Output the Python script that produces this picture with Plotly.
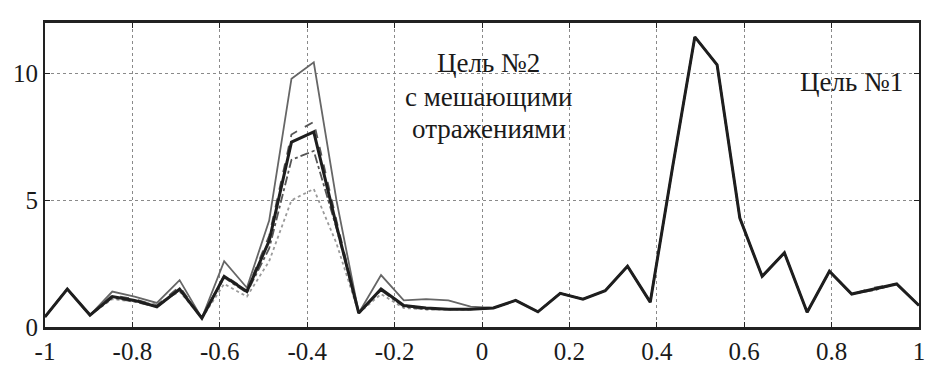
import plotly.graph_objects as go

# angle grid (sin of angle), 40 samples from -1 to 1
x_vals = [-1.000, -0.949, -0.897, -0.846, -0.795, -0.744, -0.692, -0.641, -0.590, -0.538,
          -0.487, -0.436, -0.385, -0.333, -0.282, -0.231, -0.179, -0.128, -0.077, -0.026,
          0.026, 0.077, 0.128, 0.179, 0.231, 0.282, 0.333, 0.385, 0.436, 0.487,
          0.538, 0.590, 0.641, 0.692, 0.744, 0.795, 0.846, 0.897, 0.949, 1.000]

s_thin = [0.40, 1.50, 0.47, 1.40, 1.20, 0.95, 1.85, 0.35, 2.60, 1.55,
          4.20, 9.80, 10.45, 5.00, 0.55, 2.05, 1.05, 1.10, 1.05, 0.80,
          0.75, 1.05, 0.60, 1.33, 1.10, 1.43, 2.40, 0.98, 6.30, 11.45,
          10.35, 4.30, 2.00, 2.93, 0.58, 2.20, 1.30, 1.50, 1.70, 0.85]

s_dash = [0.40, 1.50, 0.47, 1.25, 1.10, 0.85, 1.60, 0.35, 2.05, 1.45,
          3.60, 7.60, 8.10, 4.20, 0.55, 1.50, 0.85, 0.75, 0.70, 0.70,
          0.75, 1.05, 0.60, 1.33, 1.10, 1.43, 2.40, 0.98, 6.30, 11.45,
          10.35, 4.30, 2.00, 2.93, 0.58, 2.20, 1.30, 1.55, 1.70, 0.85]

s_thick = [0.40, 1.50, 0.47, 1.20, 1.05, 0.80, 1.50, 0.35, 2.00, 1.40,
           3.40, 7.30, 7.70, 4.00, 0.55, 1.50, 0.85, 0.75, 0.70, 0.70,
           0.75, 1.05, 0.60, 1.33, 1.10, 1.43, 2.40, 0.98, 6.30, 11.45,
           10.35, 4.30, 2.00, 2.93, 0.58, 2.20, 1.30, 1.50, 1.70, 0.85]

s_dashdot = [0.40, 1.50, 0.47, 1.15, 1.00, 0.80, 1.45, 0.35, 1.95, 1.35,
             3.10, 6.60, 6.95, 3.90, 0.55, 1.45, 0.80, 0.70, 0.70, 0.70,
             0.75, 1.05, 0.60, 1.33, 1.10, 1.43, 2.40, 0.98, 6.30, 11.45,
             10.35, 4.30, 2.00, 2.93, 0.58, 2.20, 1.30, 1.45, 1.70, 0.85]

s_dot = [0.40, 1.50, 0.47, 1.10, 1.00, 0.90, 1.40, 0.35, 1.70, 1.20,
         2.60, 5.00, 5.45, 3.30, 0.55, 1.30, 0.75, 0.70, 0.70, 0.70,
         0.75, 1.05, 0.60, 1.33, 1.10, 1.43, 2.40, 0.98, 6.30, 11.45,
         10.35, 4.30, 2.00, 2.93, 0.58, 2.20, 1.30, 1.50, 1.70, 0.85]

x_ticks = [-1, -0.8, -0.6, -0.4, -0.2, 0, 0.2, 0.4, 0.6, 0.8, 1]
x_tick_text = ["-1", "-0.8", "-0.6", "-0.4", "-0.2", "0", "0.2", "0.4", "0.6", "0.8", "1"]
y_ticks = [0, 5, 10]
y_tick_text = ["0", "5", "10"]

label_target2 = ["Цель №2", "с мешающими", "отражениями"]
label_target1 = "Цель №1"

FONT = "Liberation Serif"

fig = go.Figure()
series = [
    (s_dot, dict(color="#9a9a9a", width=1.8, dash="dot")),
    (s_dashdot, dict(color="#555555", width=1.8, dash="dashdot")),
    (s_dash, dict(color="#555555", width=1.8, dash="dash")),
    (s_thin, dict(color="#666666", width=1.8)),
    (s_thick, dict(color="#1e1e1e", width=3)),
]
for ys, ln in series:
    fig.add_trace(go.Scatter(x=x_vals, y=ys, mode="lines", line=ln,
                             showlegend=False, hoverinfo="skip"))

# annotations
for txt, yy in zip(label_target2, [10.43, 9.06, 7.81]):
    fig.add_annotation(x=0.016, y=yy, xref="x", yref="y", text=txt, showarrow=False,
                       font=dict(family=FONT, size=27, color="#1a1a1a"),
                       xanchor="center", yanchor="middle")
fig.add_annotation(x=0.845, y=9.69, xref="x", yref="y", text=label_target1, showarrow=False,
                   font=dict(family=FONT, size=27, color="#1a1a1a"),
                   xanchor="center", yanchor="middle")

axis_common = dict(showline=True, linecolor="#222222", mirror="ticks",
                   showgrid=True, gridcolor="#8a8a8a", griddash="dot", gridwidth=1,
                   zeroline=False, ticks="inside", ticklen=5, tickcolor="#222222",
                   tickfont=dict(family=FONT, size=25, color="#1a1a1a"))

fig.update_xaxes(range=[-1, 1], tickvals=x_ticks, ticktext=x_tick_text, linewidth=2.5,
                 ticklabeloverflow="allow", **axis_common)
fig.update_yaxes(range=[0, 12], tickvals=y_ticks, ticktext=y_tick_text, linewidth=2,
                 **axis_common)

fig.update_layout(width=927, height=367, margin=dict(l=45, r=2, t=23, b=37),
                  paper_bgcolor="white", plot_bgcolor="white")

fig.write_html("out.html")
